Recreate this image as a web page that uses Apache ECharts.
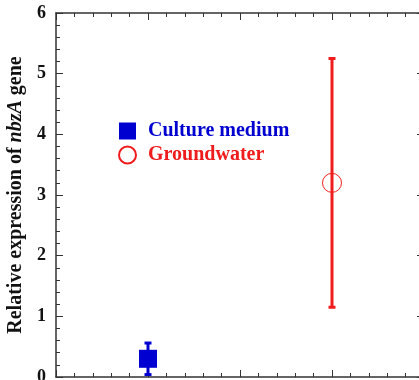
<!DOCTYPE html>
<html>
<head>
<meta charset="utf-8">
<script src="https://cdn.jsdelivr.net/npm/echarts@6/dist/echarts.min.js"></script>
<style>
  html, body { margin: 0; padding: 0; background: #fff; }
  #chart { width: 419px; height: 380px; }
</style>
</head>
<body>
<div id="chart"></div>
<script>
// sample names and their x positions
var groups = ['Culture medium', 'Groundwater'];
var xPos = [1, 2];
// relative expression (mean) and error (+/-)
var means = [0.3, 3.2];
var errors = [0.26, 2.05];
var colors = ['#0000d0', '#ee1c1c'];
var yTicks = [0, 1, 2, 3, 4, 5, 6];

var chart = echarts.init(document.getElementById('chart'));

var serif = 'Liberation Serif, Times New Roman, serif';
var axisColor = '#333';

function $extend(a, b) {
  for (var k in b) a[k] = b[k];
  return a;
}
// 坐标轴公共样式
var baseAxis = function(extra) {
  return $extend({
    axisLine: { show: true, onZero: false, lineStyle: { color: axisColor, width: 1.5 } },
    axisTick: { show: true, inside: true, length: 7, lineStyle: { color: axisColor, width: 1 } },
    minorTick: { show: true, splitNumber: 5, length: 4, lineStyle: { color: axisColor, width: 1 } },
    splitLine: { show: false },
    axisLabel: { show: false }
  }, extra);
};

var series = [];
for (var i = 0; i < groups.length; i++) {
  series.push({
    name: groups[i],
    type: 'scatter',
    xAxisIndex: 0,
    yAxisIndex: 0,
    symbol: i === 0 ? 'rect' : 'circle',
    symbolSize: i === 0 ? 18 : 19,
    itemStyle: i === 0
      ? { color: colors[0], opacity: 1 }
      : { color: 'rgba(255,255,255,0)', borderColor: colors[1], borderWidth: 1, opacity: 1 },
    z: 2,
    data: [[xPos[i], means[i]]]
  });
}
// 误差线
series.push({
  type: 'custom',
  xAxisIndex: 0,
  yAxisIndex: 0,
  z: 3,
  silent: true,
  data: xPos.map(function(x, i) { return [x, means[i], errors[i], i]; }),
  renderItem: function(params, api) {
    var x = api.value(0), m = api.value(1), e = api.value(2);
    var c = colors[api.value(3)];
    var top = api.coord([x, m + e]);
    var bot = api.coord([x, m - e]);
    var hw = 3.5;
    var st = { stroke: c, lineWidth: 3 };
    return {
      type: 'group',
      children: [
        { type: 'line', shape: { x1: top[0], y1: top[1], x2: bot[0], y2: bot[1] }, style: st },
        { type: 'line', shape: { x1: top[0] - hw, y1: top[1], x2: top[0] + hw, y2: top[1] }, style: st },
        { type: 'line', shape: { x1: bot[0] - hw, y1: bot[1], x2: bot[0] + hw, y2: bot[1] }, style: st }
      ]
    };
  }
});

var option = {
  backgroundColor: '#fff',
  animation: false,
  grid: { left: 56, right: -5, top: 13, bottom: 3, outerBoundsMode: 'none', containLabel: false },
  legend: {
    orient: 'vertical',
    left: 113,
    top: 116,
    itemWidth: 17,
    itemHeight: 17,
    itemGap: 4,
    textStyle: { fontFamily: serif, fontWeight: 'bold', fontSize: 20, padding: [0, 0, 0, 7] },
    data: [
      { name: groups[0], textStyle: { color: colors[0] } },
      { name: groups[1], textStyle: { color: colors[1] } }
    ]
  },
  xAxis: [
    baseAxis({ type: 'value', min: 0.5, max: 2.5, interval: 0.5, position: 'bottom' }),
    baseAxis({ type: 'value', min: 0.5, max: 2.5, interval: 0.5, position: 'top' })
  ],
  yAxis: [
    baseAxis({
      type: 'value', min: yTicks[0], max: yTicks[yTicks.length - 1], interval: 1, position: 'left',
      axisLabel: {
        show: true, margin: 10, color: '#111',
        fontFamily: serif, fontWeight: 'bold', fontSize: 18
      },
      name: 'Relative expression of {i|nbzA} gene',
      nameLocation: 'middle',
      nameGap: 28,
      nameTextStyle: {
        color: '#111', fontFamily: serif, fontWeight: 'bold', fontSize: 20,
        rich: { i: { fontStyle: 'italic', fontFamily: serif, fontWeight: 'bold', fontSize: 20, color: '#111' } }
      }
    }),
    baseAxis({ type: 'value', min: yTicks[0], max: yTicks[yTicks.length - 1], interval: 1, position: 'right' })
  ],
  series: series
};

chart.setOption(option);
</script>
</body>
</html>
